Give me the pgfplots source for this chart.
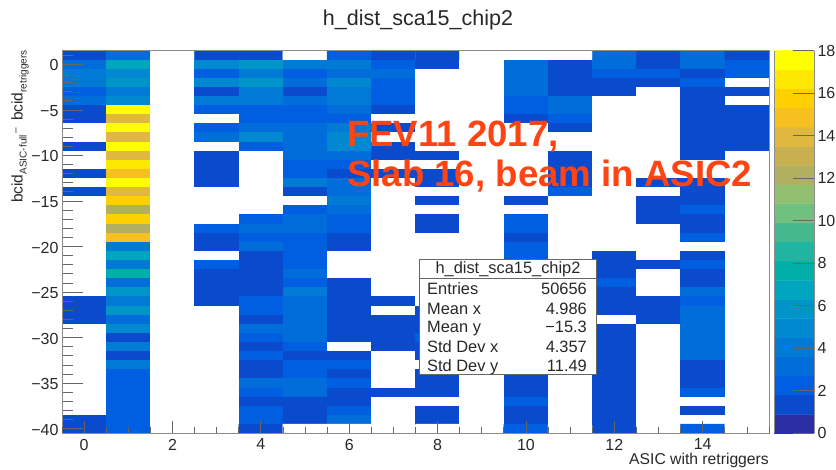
\documentclass[border=0pt]{standalone}
\usepackage{fontspec}
\setmainfont{Liberation Sans}
\usepackage{pgfplots}
\pgfplotsset{compat=1.18}
\definecolor{fevred}{RGB}{255,68,20}
\definecolor{txt}{RGB}{40,40,40}
\pgfplotsset{
  colormap={heat}{
  rgb255(0cm)=(255,255,255) rgb255(0.9cm)=(255,255,255)
  rgb255(1cm)=(10,75,205) rgb255(1.9cm)=(10,75,205)
  rgb255(2cm)=(0,95,224) rgb255(2.9cm)=(0,95,224)
  rgb255(3cm)=(0,109,219) rgb255(3.9cm)=(0,109,219)
  rgb255(4cm)=(0,122,213) rgb255(4.9cm)=(0,122,213)
  rgb255(5cm)=(0,136,208) rgb255(5.9cm)=(0,136,208)
  rgb255(6cm)=(0,149,200) rgb255(6.9cm)=(0,149,200)
  rgb255(7cm)=(0,165,192) rgb255(7.9cm)=(0,165,192)
  rgb255(8cm)=(0,176,168) rgb255(8.9cm)=(0,176,168)
  rgb255(9cm)=(69,184,144) rgb255(9.9cm)=(69,184,144)
  rgb255(10cm)=(112,192,128) rgb255(10.9cm)=(112,192,128)
  rgb255(11cm)=(144,192,112) rgb255(11.9cm)=(144,192,112)
  rgb255(12cm)=(176,176,96) rgb255(12.9cm)=(176,176,96)
  rgb255(13cm)=(200,176,80) rgb255(13.9cm)=(200,176,80)
  rgb255(14cm)=(224,184,64) rgb255(14.9cm)=(224,184,64)
  rgb255(15cm)=(245,192,32) rgb255(15.9cm)=(245,192,32)
  rgb255(16cm)=(255,208,0) rgb255(16.9cm)=(255,208,0)
  rgb255(17cm)=(252,232,0) rgb255(17.9cm)=(252,232,0)
  rgb255(18cm)=(255,255,0) rgb255(19cm)=(255,255,0)},
  colormap={bar}{
  rgb255(0cm)=(42,47,165) rgb255(0.9cm)=(42,47,165)
  rgb255(1cm)=(10,75,205) rgb255(1.9cm)=(10,75,205)
  rgb255(2cm)=(0,95,224) rgb255(2.9cm)=(0,95,224)
  rgb255(3cm)=(0,109,219) rgb255(3.9cm)=(0,109,219)
  rgb255(4cm)=(0,122,213) rgb255(4.9cm)=(0,122,213)
  rgb255(5cm)=(0,136,208) rgb255(5.9cm)=(0,136,208)
  rgb255(6cm)=(0,149,200) rgb255(6.9cm)=(0,149,200)
  rgb255(7cm)=(0,165,192) rgb255(7.9cm)=(0,165,192)
  rgb255(8cm)=(0,176,168) rgb255(8.9cm)=(0,176,168)
  rgb255(9cm)=(32,181,160) rgb255(9.9cm)=(32,181,160)
  rgb255(10cm)=(69,184,144) rgb255(10.9cm)=(69,184,144)
  rgb255(11cm)=(112,192,128) rgb255(11.9cm)=(112,192,128)
  rgb255(12cm)=(144,192,112) rgb255(12.9cm)=(144,192,112)
  rgb255(13cm)=(176,176,96) rgb255(13.9cm)=(176,176,96)
  rgb255(14cm)=(200,176,80) rgb255(14.9cm)=(200,176,80)
  rgb255(15cm)=(224,184,64) rgb255(15.9cm)=(224,184,64)
  rgb255(16cm)=(245,192,32) rgb255(16.9cm)=(245,192,32)
  rgb255(17cm)=(255,208,0) rgb255(17.9cm)=(255,208,0)
  rgb255(18cm)=(252,232,0) rgb255(18.9cm)=(252,232,0)
  rgb255(19cm)=(255,255,0) rgb255(20cm)=(255,255,0)},
}
\begin{document}
\begin{tikzpicture}[x=1pt,y=1pt]
\path[use as bounding box] (0,0) rectangle (836,469);
\begin{axis}[
  at={(62pt,35.7pt)},anchor=south west,scale only axis,width=707pt,height=382.6pt,
  xmin=-0.5,xmax=15.5,ymin=-40.5,ymax=1.5,
  axis on top,
  colormap name=heat,point meta min=-0.45,point meta max=18.55,
  xtick=\empty,
  ytick={-45,-40,...,5},minor y tick num=4,
  tick align=inside,
  ytick pos=left,
  axis line style={draw=black!45,line width=0.9pt},
  tick style={draw=black!60,line width=0.8pt},
  major tick length=21pt,minor tick length=10.6pt,
  /pgf/number format/assume math mode=true,
  tick label style={font=\fontsize{16}{16}\selectfont,text=txt},
  yticklabel style={yshift=-1pt},
  yticklabel={\pgfmathparse{abs(\tick)}\ifdim\tick pt<0pt \symbol{"2212}\fi\pgfmathprintnumber{\pgfmathresult}},
]
\addplot[matrix plot*,mesh/cols=16,point meta=explicit] coordinates {
(0,1)[1] (1,1)[3] (2,1)[0] (3,1)[1] (4,1)[1] (5,1)[0] (6,1)[2] (7,1)[1] (8,1)[1] (9,1)[0] (10,1)[0] (11,1)[0] (12,1)[3] (13,1)[1] (14,1)[3] (15,1)[1]
(0,0)[3] (1,0)[7] (2,0)[0] (3,0)[5] (4,0)[6] (5,0)[4] (6,0)[4] (7,0)[2] (8,0)[1] (9,0)[0] (10,0)[3] (11,0)[1] (12,0)[3] (13,0)[1] (14,0)[3] (15,0)[2]
(0,-1)[4] (1,-1)[5] (2,-1)[0] (3,-1)[2] (4,-1)[4] (5,-1)[2] (6,-1)[3] (7,-1)[3] (8,-1)[0] (9,-1)[0] (10,-1)[3] (11,-1)[1] (12,-1)[2] (13,-1)[2] (14,-1)[1] (15,-1)[2]
(0,-2)[4] (1,-2)[6] (2,-2)[0] (3,-2)[5] (4,-2)[6] (5,-2)[3] (6,-2)[5] (7,-2)[2] (8,-2)[0] (9,-2)[0] (10,-2)[3] (11,-2)[1] (12,-2)[1] (13,-2)[1] (14,-2)[2] (15,-2)[0]
(0,-3)[2] (1,-3)[4] (2,-3)[0] (3,-3)[1] (4,-3)[4] (5,-3)[1] (6,-3)[4] (7,-3)[2] (8,-3)[0] (9,-3)[0] (10,-3)[3] (11,-3)[1] (12,-3)[1] (13,-3)[0] (14,-3)[1] (15,-3)[1]
(0,-4)[3] (1,-4)[5] (2,-4)[0] (3,-4)[4] (4,-4)[4] (5,-4)[3] (6,-4)[4] (7,-4)[2] (8,-4)[0] (9,-4)[0] (10,-4)[2] (11,-4)[3] (12,-4)[0] (13,-4)[0] (14,-4)[1] (15,-4)[0]
(0,-5)[1] (1,-5)[18] (2,-5)[0] (3,-5)[2] (4,-5)[2] (5,-5)[2] (6,-5)[3] (7,-5)[1] (8,-5)[0] (9,-5)[0] (10,-5)[2] (11,-5)[3] (12,-5)[0] (13,-5)[0] (14,-5)[1] (15,-5)[1]
(0,-6)[1] (1,-6)[14] (2,-6)[0] (3,-6)[0] (4,-6)[2] (5,-6)[2] (6,-6)[2] (7,-6)[0] (8,-6)[0] (9,-6)[0] (10,-6)[1] (11,-6)[2] (12,-6)[0] (13,-6)[0] (14,-6)[1] (15,-6)[1]
(0,-7)[0] (1,-7)[18] (2,-7)[0] (3,-7)[2] (4,-7)[3] (5,-7)[3] (6,-7)[4] (7,-7)[1] (8,-7)[0] (9,-7)[0] (10,-7)[0] (11,-7)[1] (12,-7)[0] (13,-7)[0] (14,-7)[1] (15,-7)[1]
(0,-8)[0] (1,-8)[14] (2,-8)[0] (3,-8)[3] (4,-8)[5] (5,-8)[3] (6,-8)[5] (7,-8)[0] (8,-8)[0] (9,-8)[0] (10,-8)[0] (11,-8)[0] (12,-8)[0] (13,-8)[0] (14,-8)[1] (15,-8)[1]
(0,-9)[1] (1,-9)[18] (2,-9)[0] (3,-9)[0] (4,-9)[2] (5,-9)[3] (6,-9)[5] (7,-9)[1] (8,-9)[0] (9,-9)[0] (10,-9)[0] (11,-9)[0] (12,-9)[0] (13,-9)[0] (14,-9)[1] (15,-9)[1]
(0,-10)[0] (1,-10)[14] (2,-10)[0] (3,-10)[1] (4,-10)[0] (5,-10)[3] (6,-10)[3] (7,-10)[1] (8,-10)[1] (9,-10)[0] (10,-10)[0] (11,-10)[1] (12,-10)[0] (13,-10)[0] (14,-10)[1] (15,-10)[0]
(0,-11)[0] (1,-11)[17] (2,-11)[0] (3,-11)[1] (4,-11)[0] (5,-11)[2] (6,-11)[2] (7,-11)[0] (8,-11)[0] (9,-11)[0] (10,-11)[0] (11,-11)[1] (12,-11)[0] (13,-11)[0] (14,-11)[0] (15,-11)[0]
(0,-12)[1] (1,-12)[15] (2,-12)[0] (3,-12)[1] (4,-12)[0] (5,-12)[2] (6,-12)[1] (7,-12)[1] (8,-12)[1] (9,-12)[0] (10,-12)[0] (11,-12)[1] (12,-12)[0] (13,-12)[0] (14,-12)[0] (15,-12)[0]
(0,-13)[0] (1,-13)[18] (2,-13)[0] (3,-13)[1] (4,-13)[0] (5,-13)[4] (6,-13)[3] (7,-13)[0] (8,-13)[1] (9,-13)[0] (10,-13)[0] (11,-13)[1] (12,-13)[0] (13,-13)[1] (14,-13)[1] (15,-13)[0]
(0,-14)[1] (1,-14)[14] (2,-14)[0] (3,-14)[0] (4,-14)[0] (5,-14)[1] (6,-14)[3] (7,-14)[0] (8,-14)[0] (9,-14)[0] (10,-14)[0] (11,-14)[2] (12,-14)[0] (13,-14)[0] (14,-14)[1] (15,-14)[0]
(0,-15)[0] (1,-15)[16] (2,-15)[0] (3,-15)[0] (4,-15)[0] (5,-15)[0] (6,-15)[4] (7,-15)[0] (8,-15)[1] (9,-15)[0] (10,-15)[1] (11,-15)[0] (12,-15)[0] (13,-15)[1] (14,-15)[1] (15,-15)[0]
(0,-16)[0] (1,-16)[12] (2,-16)[0] (3,-16)[0] (4,-16)[0] (5,-16)[2] (6,-16)[3] (7,-16)[0] (8,-16)[0] (9,-16)[0] (10,-16)[0] (11,-16)[0] (12,-16)[0] (13,-16)[1] (14,-16)[2] (15,-16)[0]
(0,-17)[0] (1,-17)[16] (2,-17)[0] (3,-17)[0] (4,-17)[2] (5,-17)[3] (6,-17)[2] (7,-17)[0] (8,-17)[1] (9,-17)[0] (10,-17)[2] (11,-17)[0] (12,-17)[0] (13,-17)[1] (14,-17)[1] (15,-17)[0]
(0,-18)[0] (1,-18)[12] (2,-18)[0] (3,-18)[2] (4,-18)[3] (5,-18)[3] (6,-18)[2] (7,-18)[0] (8,-18)[1] (9,-18)[0] (10,-18)[2] (11,-18)[0] (12,-18)[0] (13,-18)[0] (14,-18)[1] (15,-18)[0]
(0,-19)[0] (1,-19)[15] (2,-19)[0] (3,-19)[1] (4,-19)[2] (5,-19)[2] (6,-19)[1] (7,-19)[0] (8,-19)[0] (9,-19)[0] (10,-19)[1] (11,-19)[0] (12,-19)[0] (13,-19)[0] (14,-19)[2] (15,-19)[0]
(0,-20)[0] (1,-20)[4] (2,-20)[0] (3,-20)[1] (4,-20)[3] (5,-20)[2] (6,-20)[1] (7,-20)[0] (8,-20)[0] (9,-20)[0] (10,-20)[2] (11,-20)[0] (12,-20)[0] (13,-20)[0] (14,-20)[0] (15,-20)[0]
(0,-21)[0] (1,-21)[7] (2,-21)[0] (3,-21)[0] (4,-21)[1] (5,-21)[2] (6,-21)[0] (7,-21)[0] (8,-21)[0] (9,-21)[0] (10,-21)[2] (11,-21)[0] (12,-21)[1] (13,-21)[0] (14,-21)[1] (15,-21)[0]
(0,-22)[0] (1,-22)[4] (2,-22)[0] (3,-22)[2] (4,-22)[1] (5,-22)[2] (6,-22)[0] (7,-22)[0] (8,-22)[0] (9,-22)[0] (10,-22)[1] (11,-22)[0] (12,-22)[1] (13,-22)[1] (14,-22)[2] (15,-22)[0]
(0,-23)[0] (1,-23)[8] (2,-23)[0] (3,-23)[1] (4,-23)[1] (5,-23)[3] (6,-23)[0] (7,-23)[0] (8,-23)[0] (9,-23)[0] (10,-23)[1] (11,-23)[0] (12,-23)[1] (13,-23)[0] (14,-23)[1] (15,-23)[0]
(0,-24)[0] (1,-24)[3] (2,-24)[0] (3,-24)[1] (4,-24)[1] (5,-24)[2] (6,-24)[1] (7,-24)[0] (8,-24)[0] (9,-24)[0] (10,-24)[1] (11,-24)[0] (12,-24)[2] (13,-24)[0] (14,-24)[1] (15,-24)[0]
(0,-25)[0] (1,-25)[6] (2,-25)[0] (3,-25)[1] (4,-25)[1] (5,-25)[4] (6,-25)[1] (7,-25)[0] (8,-25)[0] (9,-25)[0] (10,-25)[1] (11,-25)[0] (12,-25)[1] (13,-25)[0] (14,-25)[3] (15,-25)[0]
(0,-26)[1] (1,-26)[4] (2,-26)[0] (3,-26)[1] (4,-26)[2] (5,-26)[3] (6,-26)[1] (7,-26)[1] (8,-26)[0] (9,-26)[0] (10,-26)[1] (11,-26)[0] (12,-26)[1] (13,-26)[1] (14,-26)[2] (15,-26)[0]
(0,-27)[1] (1,-27)[6] (2,-27)[0] (3,-27)[0] (4,-27)[2] (5,-27)[3] (6,-27)[1] (7,-27)[0] (8,-27)[1] (9,-27)[0] (10,-27)[1] (11,-27)[0] (12,-27)[1] (13,-27)[1] (14,-27)[3] (15,-27)[0]
(0,-28)[1] (1,-28)[3] (2,-28)[0] (3,-28)[0] (4,-28)[1] (5,-28)[3] (6,-28)[1] (7,-28)[1] (8,-28)[1] (9,-28)[0] (10,-28)[1] (11,-28)[0] (12,-28)[0] (13,-28)[1] (14,-28)[3] (15,-28)[0]
(0,-29)[0] (1,-29)[5] (2,-29)[0] (3,-29)[0] (4,-29)[3] (5,-29)[3] (6,-29)[1] (7,-29)[1] (8,-29)[1] (9,-29)[0] (10,-29)[1] (11,-29)[0] (12,-29)[1] (13,-29)[0] (14,-29)[3] (15,-29)[0]
(0,-30)[0] (1,-30)[1] (2,-30)[0] (3,-30)[0] (4,-30)[2] (5,-30)[3] (6,-30)[1] (7,-30)[1] (8,-30)[2] (9,-30)[0] (10,-30)[1] (11,-30)[0] (12,-30)[1] (13,-30)[0] (14,-30)[3] (15,-30)[0]
(0,-31)[0] (1,-31)[4] (2,-31)[0] (3,-31)[0] (4,-31)[1] (5,-31)[2] (6,-31)[0] (7,-31)[1] (8,-31)[1] (9,-31)[0] (10,-31)[1] (11,-31)[0] (12,-31)[1] (13,-31)[0] (14,-31)[3] (15,-31)[0]
(0,-32)[0] (1,-32)[1] (2,-32)[0] (3,-32)[0] (4,-32)[2] (5,-32)[1] (6,-32)[1] (7,-32)[0] (8,-32)[1] (9,-32)[0] (10,-32)[1] (11,-32)[0] (12,-32)[1] (13,-32)[0] (14,-32)[3] (15,-32)[0]
(0,-33)[0] (1,-33)[4] (2,-33)[0] (3,-33)[0] (4,-33)[1] (5,-33)[2] (6,-33)[2] (7,-33)[0] (8,-33)[0] (9,-33)[0] (10,-33)[1] (11,-33)[0] (12,-33)[1] (13,-33)[0] (14,-33)[1] (15,-33)[0]
(0,-34)[0] (1,-34)[2] (2,-34)[0] (3,-34)[0] (4,-34)[1] (5,-34)[2] (6,-34)[1] (7,-34)[0] (8,-34)[1] (9,-34)[0] (10,-34)[1] (11,-34)[0] (12,-34)[1] (13,-34)[0] (14,-34)[1] (15,-34)[0]
(0,-35)[0] (1,-35)[2] (2,-35)[0] (3,-35)[0] (4,-35)[3] (5,-35)[3] (6,-35)[2] (7,-35)[0] (8,-35)[1] (9,-35)[0] (10,-35)[1] (11,-35)[0] (12,-35)[1] (13,-35)[0] (14,-35)[1] (15,-35)[0]
(0,-36)[0] (1,-36)[2] (2,-36)[0] (3,-36)[0] (4,-36)[2] (5,-36)[3] (6,-36)[1] (7,-36)[1] (8,-36)[1] (9,-36)[0] (10,-36)[1] (11,-36)[0] (12,-36)[1] (13,-36)[0] (14,-36)[2] (15,-36)[0]
(0,-37)[0] (1,-37)[2] (2,-37)[0] (3,-37)[0] (4,-37)[1] (5,-37)[1] (6,-37)[1] (7,-37)[0] (8,-37)[0] (9,-37)[0] (10,-37)[2] (11,-37)[0] (12,-37)[1] (13,-37)[0] (14,-37)[0] (15,-37)[0]
(0,-38)[0] (1,-38)[2] (2,-38)[0] (3,-38)[0] (4,-38)[2] (5,-38)[1] (6,-38)[2] (7,-38)[0] (8,-38)[1] (9,-38)[0] (10,-38)[1] (11,-38)[0] (12,-38)[1] (13,-38)[0] (14,-38)[1] (15,-38)[0]
(0,-39)[1] (1,-39)[2] (2,-39)[0] (3,-39)[0] (4,-39)[2] (5,-39)[1] (6,-39)[3] (7,-39)[0] (8,-39)[1] (9,-39)[0] (10,-39)[1] (11,-39)[0] (12,-39)[1] (13,-39)[0] (14,-39)[0] (15,-39)[0]
(0,-40)[1] (1,-40)[2] (2,-40)[0] (3,-40)[0] (4,-40)[1] (5,-40)[0] (6,-40)[0] (7,-40)[0] (8,-40)[0] (9,-40)[0] (10,-40)[2] (11,-40)[0] (12,-40)[1] (13,-40)[0] (14,-40)[2] (15,-40)[0]
};
\end{axis}
% x ticks: their own lengths, on the same ranges
\begin{axis}[
  at={(62pt,35.7pt)},anchor=south west,scale only axis,width=707pt,height=382.6pt,
  xmin=-0.5,xmax=15.5,ymin=-40.5,ymax=1.5,
  axis line style={draw=none},
  ytick=\empty,
  xtick={-2,0,...,16},minor x tick num=3,
  tick align=inside,xtick pos=bottom,
  tick style={draw=black!60,line width=0.8pt},
  major tick length=12pt,minor tick length=6pt,
  /pgf/number format/assume math mode=true,
  tick label style={font=\fontsize{16}{16}\selectfont,text=txt},
  xticklabel style={yshift=-2pt},
]
\end{axis}
% colour bar
\begin{axis}[
  at={(774pt,35.7pt)},anchor=south west,scale only axis,width=40pt,height=382.6pt,
  xmin=-0.5,xmax=1.5,ymin=0,ymax=18,
  axis on top,
  colormap name=bar,point meta min=0,point meta max=18,
  xtick=\empty,ytick={0,2,...,18},
  ytick pos=right,yticklabel pos=right,tick align=inside,
  separate axis lines,
  x axis line style={draw=none},
  y axis line style={draw=black!45,line width=0.9pt},
  tick style={draw=black!60,line width=0.8pt},
  major tick length=21.5pt,
  /pgf/number format/assume math mode=true,
  tick label style={font=\fontsize{16}{16}\selectfont,text=txt},
]
\addplot[matrix plot*,mesh/cols=2,point meta=explicit] coordinates {
(0,0.40)[0.40] (1,0.40)[0.40]
(0,1.35)[1.30] (1,1.35)[1.30]
(0,2.25)[2.20] (1,2.25)[2.20]
(0,3.15)[3.10] (1,3.15)[3.10]
(0,4.05)[4.00] (1,4.05)[4.00]
(0,4.95)[4.90] (1,4.95)[4.90]
(0,5.85)[5.80] (1,5.85)[5.80]
(0,6.75)[6.70] (1,6.75)[6.70]
(0,7.65)[7.60] (1,7.65)[7.60]
(0,8.55)[8.50] (1,8.55)[8.50]
(0,9.45)[9.40] (1,9.45)[9.40]
(0,10.35)[10.30] (1,10.35)[10.30]
(0,11.25)[11.20] (1,11.25)[11.20]
(0,12.15)[12.10] (1,12.15)[12.10]
(0,13.05)[13.00] (1,13.05)[13.00]
(0,13.95)[13.90] (1,13.95)[13.90]
(0,14.85)[14.80] (1,14.85)[14.80]
(0,15.75)[15.70] (1,15.75)[15.70]
(0,16.65)[16.60] (1,16.65)[16.60]
(0,17.55)[17.50] (1,17.55)[17.50]
};
\end{axis}
% title and axis labels
\node[anchor=center,text=txt,font=\fontsize{21.5}{21.5}\selectfont] at (418,449) {h\_dist\_sca15\_chip2};
\node[anchor=south east,inner sep=0pt,text=txt,font=\fontsize{15.7}{16}\selectfont] at (769,1) {ASIC with retriggers};
\node[rotate=90,anchor=south east,inner sep=0pt,text=txt,font=\fontsize{15.5}{16}\selectfont] at (29,419) {bcid\raisebox{-4pt}{\fontsize{10}{10}\selectfont ASIC-full}\raisebox{4pt}{\fontsize{10}{10}\selectfont\,\textendash}\, bcid\raisebox{-4pt}{\fontsize{10}{10}\selectfont retriggers}};
% annotation
\node[anchor=base west,inner sep=0pt,text=fevred,font=\bfseries\fontsize{36.6}{36.6}\selectfont] at (347,322) {FEV11 2017,};
\node[anchor=base west,inner sep=0pt,text=fevred,font=\bfseries\fontsize{36.6}{36.6}\selectfont] at (347,282) {Slab 16, beam in ASIC2};
% statistics box
\fill[white] (419.5,94) rectangle (596.5,209);
\draw[black!60,line width=1pt] (419.5,94) rectangle (596.5,209);
\draw[black!60,line width=1pt] (419.5,190) -- (596.5,190);
\begin{scope}[every node/.style={inner sep=0pt,text=txt,font=\fontsize{16.4}{16.4}\selectfont}]
\node[anchor=center] at (508,200) {h\_dist\_sca15\_chip2};
\node[anchor=base west] at (427,174) {Entries};
\node[anchor=base east] at (587,174) {50656};
\node[anchor=base west] at (427,154) {Mean x};
\node[anchor=base east] at (587,154) {4.986};
\node[anchor=base west] at (427,136) {Mean y};
\node[anchor=base east] at (587,136) {\symbol{"2212}15.3};
\node[anchor=base west] at (427,116) {Std Dev x};
\node[anchor=base east] at (587,116) {4.357};
\node[anchor=base west] at (427,97.5) {Std Dev y};
\node[anchor=base east] at (587,97.5) {11.49};
\end{scope}
\end{tikzpicture}
\end{document}
